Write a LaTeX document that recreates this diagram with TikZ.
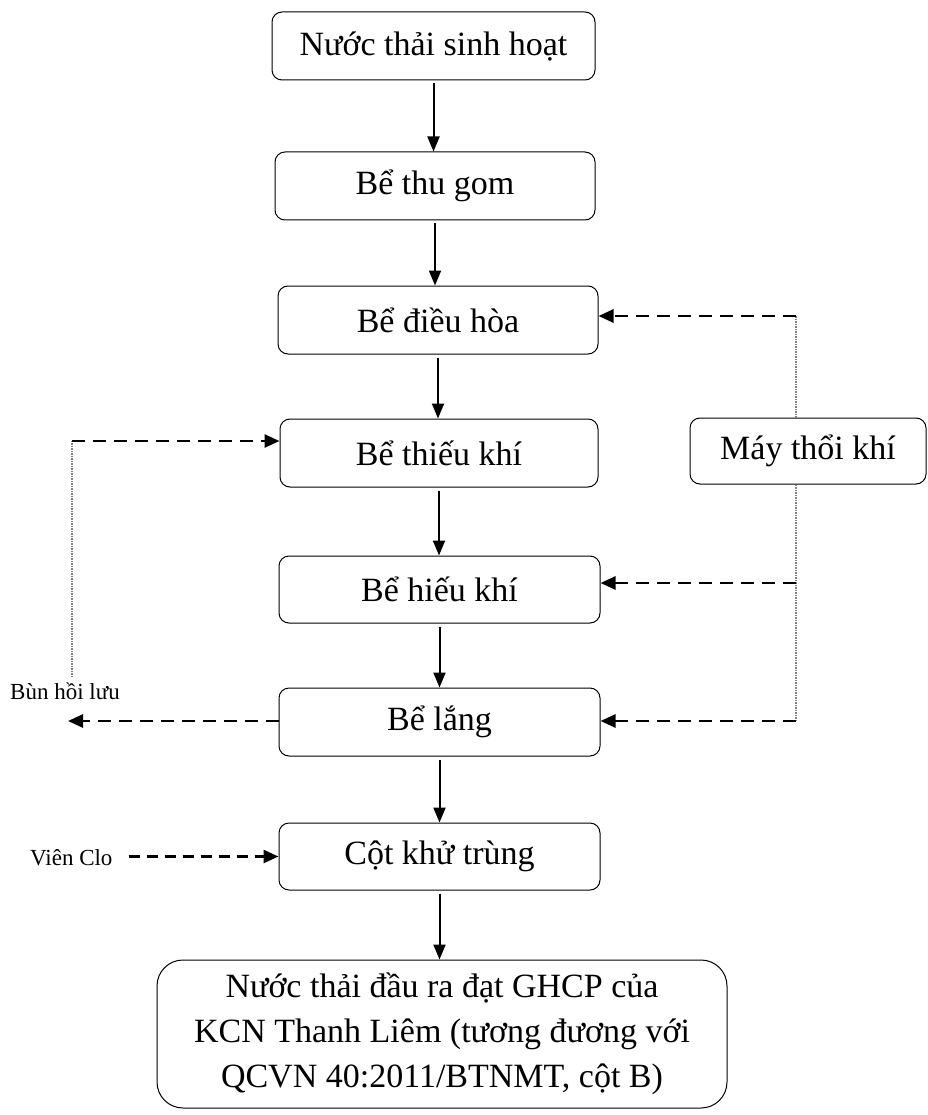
\documentclass[tikz,border=0pt]{standalone}
\usepackage{fontspec}
\setmainfont{Liberation Serif}
\usetikzlibrary{arrows.meta}
\begin{document}
\begin{tikzpicture}[x=1pt,y=-1pt,
  box/.style={draw, line width=1pt, rounded corners=10pt, align=center, inner sep=0pt,
    font=\fontsize{34}{45}\selectfont, minimum width=320pt, minimum height=68pt},
  flow/.style={line width=2pt, -{Triangle[length=15pt,width=12pt]}},
  dasharrow/.style={line width=2.6pt, dash pattern=on 13pt off 8pt, -{Triangle[length=15pt,width=13pt]}},
  dotline/.style={line width=1.1pt, gray, dash pattern=on 1.5pt off 1pt},
  lbl/.style={font=\fontsize{23}{28}\selectfont, inner sep=0pt}]
\useasboundingbox (0,0) rectangle (927,1115);

\node[box, minimum width=323pt] (b1) at (433.5,46) {Nước thải sinh hoạt};
\node[box] (b2) at (435,186) {Bể thu gom};
\node[box] (b3) at (438,320) {Bể điều hòa};
\node[box, minimum width=318pt] (b4) at (439,453) {Bể thiếu khí};
\node[box, minimum width=321pt, minimum height=67pt] (b5) at (439.5,589.5) {Bể hiếu khí};
\node[box, minimum width=321pt] (b6) at (439.5,722) {Bể lắng};
\node[box, minimum width=321pt, minimum height=67pt] (b7) at (439.5,856.5) {Cột khử trùng};
\node[box, rounded corners=26pt, minimum width=570pt, minimum height=148pt] (b8) at (442,1034)
  {Nước thải đầu ra đạt GHCP của\\KCN Thanh Liêm (tương đương với\\QCVN 40:2011/BTNMT, cột B)};
\node[box, minimum width=236pt, minimum height=66pt] (m) at (808,451) {Máy thổi khí};

\node[lbl, anchor=base west] (bun) at (10,699) {Bùn hồi lưu};
\node[lbl, anchor=base west] (clo) at (30,865) {Viên Clo};

% main flow
\draw[flow] ([yshift=-3pt]b1.south) -- (b1.south |- b2.north);
\draw[flow] ([yshift=-3pt]b2.south) -- (b2.south |- b3.north);
\draw[flow] ([yshift=-3pt]b3.south) -- (b3.south |- b4.north);
\draw[flow] ([yshift=-3pt]b4.south) -- (b4.south |- b5.north);
\draw[flow] ([yshift=-3pt]b5.south) -- (b5.south |- b6.north);
\draw[flow] ([yshift=-3pt]b6.south) -- (b6.south |- b7.north);
\draw[flow] ([yshift=-3pt]b7.south) -- (b7.south |- b8.north);

% air blower
\coordinate (ctop) at (796,316);
\coordinate (cmid) at (796,583);
\coordinate (cbot) at (796,721);
\draw[dotline] (ctop |- m.north) -- (ctop);
\draw[dasharrow] (ctop) -- (b3.east |- ctop);
\draw[dotline] (cbot |- m.south) -- (cbot);
\draw[dasharrow] (cmid) -- (b5.east |- cmid);
\draw[dasharrow] (cbot) -- (b6.east |- cbot);

% sludge return
\coordinate (lt) at (72,441);
\coordinate (lb) at (72,677);
\coordinate (lout) at (68,721);
\draw[dotline] (lb) -- (lt);
\draw[dasharrow] (lt) -- (b4.west |- lt);
\draw[dasharrow] (b6.west |- lout) -- (lout);

% chlorine
\draw[dasharrow, dash pattern=on 11pt off 7pt] ([xshift=16pt]clo.east |- b7.west) -- (b7.west);
\end{tikzpicture}
\end{document}
